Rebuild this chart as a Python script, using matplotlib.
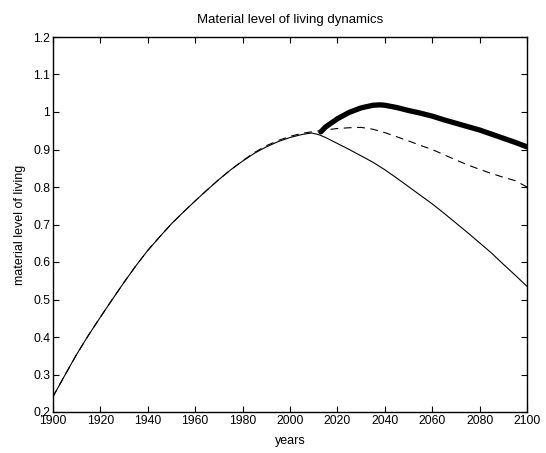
import matplotlib
matplotlib.use("Agg")
import matplotlib.pyplot as plt

plt.rcParams['font.family'] = ['Liberation Sans', 'DejaVu Sans']

# Solid thin line (base scenario)
years_base = [1900, 1905, 1910, 1915, 1920, 1925, 1930, 1935, 1940, 1945, 1950,
              1955, 1960, 1965, 1970, 1975, 1980, 1985, 1990, 1995, 2000, 2005,
              2009, 2012, 2015, 2020, 2025, 2030, 2035, 2040, 2045, 2050, 2055,
              2060, 2065, 2070, 2075, 2080, 2085, 2090, 2095, 2100]
level_base = [0.241, 0.298, 0.354, 0.405, 0.453, 0.500, 0.546, 0.590, 0.631, 0.667, 0.702,
              0.733, 0.763, 0.792, 0.820, 0.846, 0.869, 0.890, 0.907, 0.921, 0.932, 0.940,
              0.944, 0.940, 0.932, 0.916, 0.900, 0.883, 0.866, 0.846, 0.824, 0.801, 0.778,
              0.755, 0.730, 0.704, 0.678, 0.651, 0.624, 0.594, 0.565, 0.535]

# Dashed line
years_dash = [1900, 1905, 1910, 1915, 1920, 1925, 1930, 1935, 1940, 1945, 1950,
              1955, 1960, 1965, 1970, 1975, 1980, 1985, 1990, 1995, 2000, 2005,
              2010, 2015, 2020, 2025, 2030, 2035, 2040, 2045, 2050, 2055, 2060,
              2065, 2070, 2075, 2080, 2085, 2090, 2095, 2100]
level_dash = [0.241, 0.298, 0.354, 0.405, 0.453, 0.500, 0.546, 0.590, 0.631, 0.667, 0.702,
              0.733, 0.763, 0.792, 0.820, 0.846, 0.870, 0.892, 0.910, 0.924, 0.935, 0.943,
              0.948, 0.952, 0.956, 0.958, 0.959, 0.954, 0.945, 0.934, 0.923, 0.911, 0.900,
              0.886, 0.872, 0.859, 0.847, 0.836, 0.826, 0.817, 0.800]

# Thick line
years_thick = [2013, 2015, 2020, 2025, 2030, 2035, 2038, 2040, 2045, 2050, 2055, 2060,
               2065, 2070, 2075, 2080, 2085, 2090, 2095, 2100]
level_thick = [0.947, 0.960, 0.982, 0.999, 1.011, 1.018, 1.019, 1.018, 1.012, 1.004, 0.997,
               0.989, 0.979, 0.970, 0.961, 0.952, 0.941, 0.930, 0.919, 0.907]

xticks = [1900, 1920, 1940, 1960, 1980, 2000, 2020, 2040, 2060, 2080, 2100]
yticks = [0.2, 0.3, 0.4, 0.5, 0.6, 0.7, 0.8, 0.9, 1.0, 1.1, 1.2]
ytick_labels = ['0.2', '0.3', '0.4', '0.5', '0.6', '0.7', '0.8', '0.9', '1', '1.1', '1.2']

fig = plt.figure(figsize=(5.46, 4.53), dpi=100)
ax = fig.add_axes([53/546, 41/453, 474/546, 375/453])

ax.plot(years_base, level_base, color='black', lw=0.8)
ax.plot(years_dash, level_dash, color='black', lw=0.8, linestyle=(0, (7, 5)))
ax.plot(years_thick, level_thick, color='black', lw=3.8, solid_capstyle='round')

ax.set_xlim(1900, 2100)
ax.set_ylim(0.2, 1.2)
ax.set_xticks(xticks)
ax.set_yticks(yticks)
ax.set_yticklabels(ytick_labels)
ax.tick_params(direction='in', length=4, width=0.8, top=True, right=True,
               labelsize=8.8, pad=2)
for s in ax.spines.values():
    s.set_linewidth(1.0)

ax.set_title('Material level of living dynamics', fontsize=9.5, pad=10)
ax.set_xlabel('years', fontsize=9, labelpad=6)
ax.set_ylabel('material level of living', fontsize=9, labelpad=5)

fig.savefig('out.png', dpi=100)
